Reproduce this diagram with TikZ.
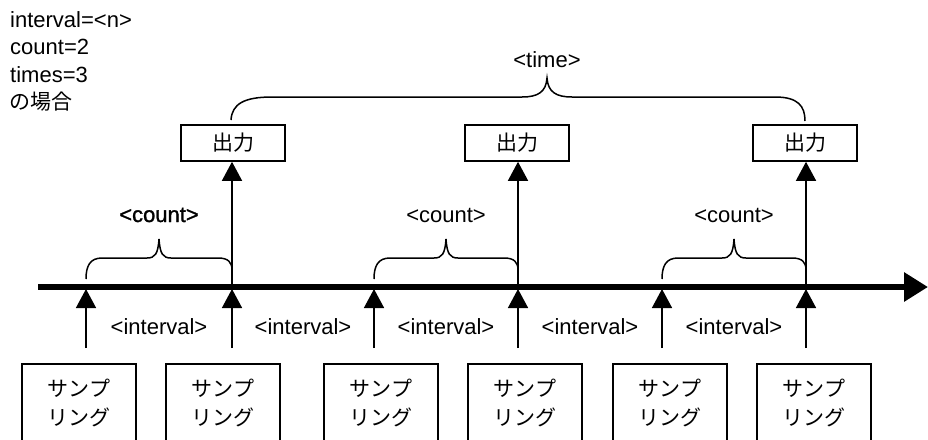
\documentclass[tikz,border=0pt]{standalone}
\usepackage{fontspec}
\setmainfont{Liberation Sans}
\newfontfamily\cjk{Noto Sans CJK JP}
\newfontfamily\semibold[FakeBold=1.2]{Liberation Sans}
\usetikzlibrary{arrows.meta}
\begin{document}
\begin{tikzpicture}[x=1pt,y=-1pt,
  sbox/.style={draw, line width=1.6pt, minimum width=114pt, minimum height=78pt, align=center, anchor=north, inner sep=0pt, font=\cjk\fontsize{21}{29}\selectfont},
  obox/.style={draw, line width=1.6pt, minimum width=104pt, minimum height=36pt, inner sep=0pt, font=\cjk\fontsize{21}{25}\selectfont},
  lbl/.style={inner sep=0pt, font=\fontsize{22}{26}\selectfont},
  arr/.style={line width=1.5pt, -{Triangle[length=19pt,width=20pt]}},
  brc/.style={line width=1.5pt},
  axis/.style={line width=6pt, -{Triangle[length=24pt,width=28pt]}}
]
\useasboundingbox (0,0) rectangle (928,439);

% top-left text
\node[lbl, anchor=west] (p1) at (10,20) {interval=<n>};
\node[lbl, anchor=west] (p2) at (10,47) {count=2};
\node[lbl, anchor=west] (p3) at (10,75) {times=3};
\node[lbl, anchor=west, font=\cjk\fontsize{21}{25}\selectfont] (p4) at (9,102) {の場合};

% timeline
\coordinate (L) at (38,287);
\coordinate (R) at (928,287);
\draw[axis] (L) -- (R);

% sampling boxes
\node[sbox] (s1) at (79,363) {サンプ\\リング};
\node[sbox] (s2) at (223,363) {サンプ\\リング};
\node[sbox] (s3) at (381,363) {サンプ\\リング};
\node[sbox] (s4) at (525,363) {サンプ\\リング};
\node[sbox] (s5) at (670,363) {サンプ\\リング};
\node[sbox] (s6) at (814,363) {サンプ\\リング};

% sampling arrows
\foreach \i/\x in {1/86,2/232,3/374,4/518,5/662,6/806}{
  \coordinate (a\i) at (\x,348);
  \coordinate (t\i) at (\x,289);
  \draw[arr] (a\i) -- (t\i);
}

% output boxes
\node[obox] (o1) at (233,143) {出力};
\node[obox] (o2) at (517,143) {出力};
\node[obox] (o3) at (805,143) {出力};
\draw[arr] (t2) -- (t2 |- o1.south);
\draw[arr] (t4) -- (t4 |- o2.south);
\draw[arr] (t6) -- (t6 |- o3.south);

% interval labels
\foreach \x in {159,303,446,590,734}{
  \node[lbl] at (\x,327) {<interval>};
}

% count braces
\foreach \a/\b in {86/232,374/518,662/806}{
  \pgfmathsetmacro\m{(\a+\b)/2}
  \draw[brc] (\a,279) .. controls (\a,266) and (\a+4,258) .. (\a+16,258)
    -- (\m-12,258) .. controls (\m-4,258) and (\m-1,254) .. (\m,239)
    .. controls (\m+1,254) and (\m+4,258) .. (\m+12,258)
    -- (\b-14,258) .. controls (\b-4,258) and (\b,262) .. (\b,270);
}
\node[lbl] (c1) at (159,215) {\semibold <count>};
\node[lbl] (c2) at (446,215) {<count>};
\node[lbl] (c3) at (734,215) {<count>};

% time brace
\draw[brc] (231,120) .. controls (232,104) and (244,97) .. (272,97)
  -- (522,97) .. controls (538,97) and (546,92) .. (547,78)
  .. controls (548,92) and (556,97) .. (572,97)
  -- (775,97) .. controls (798,97) and (805,106) .. (805,121);
\node[lbl] (tm) at (547,60) {<time>};
\end{tikzpicture}
\end{document}
